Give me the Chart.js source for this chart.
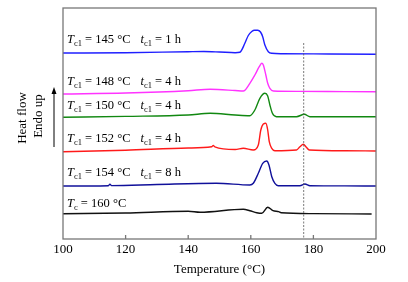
<!DOCTYPE html>
<html>
<head>
<meta charset="utf-8">
<script src="https://cdn.jsdelivr.net/npm/chart.js@4.4.1/dist/chart.umd.min.js"></script>
<style>
  html, body { margin: 0; padding: 0; background: #fff; }
  #wrap { width: 408px; height: 282px; }
</style>
</head>
<body>
<div id="wrap"><canvas id="dsc"></canvas></div>
<script>
// temperatures (°C) and heat-flow readings (arbitrary offset units) per curve
const tc145T = [100, 120, 140, 145, 150, 155, 156.5, 158.1, 159.2, 160.3, 161.2, 162.2, 163.1, 163.8, 164.5, 165.6, 166.7, 170, 185, 200];
const tc145V = [186, 186.3, 187.3, 187.5, 187, 186.3, 186.7, 195.7, 203.5, 207.5, 208.8, 208.8, 207, 202.3, 194, 187.3, 185.7, 185.3, 185, 184.7];

const tc148T = [100, 120, 140, 147, 155, 157.6, 159.7, 161.3, 162.7, 163.5, 164, 164.8, 165.4, 166.1, 167.2, 175, 190, 200];
const tc148V = [145, 146, 148.3, 149.7, 148.5, 148, 155.7, 164, 172.3, 175.7, 174, 164, 155.7, 150.7, 148, 147.6, 147.4, 147.3];

const tc150T = [100, 120, 140, 147, 155, 159.7, 161.3, 162.9, 164.5, 165.4, 166.1, 166.9, 168.2, 174.6, 177.1, 178.9, 190, 200];
const tc150V = [121.7, 122.6, 124, 125.7, 124, 123.3, 129, 140.7, 145.7, 143, 134, 125.7, 122.3, 122.3, 124.7, 122.3, 122.3, 122.3];

const tc152T = [100, 120, 140, 147.5, 148, 148.5, 155, 157.6, 160.8, 162.4, 163.2, 164, 164.8, 165.4, 165.9, 166.7, 167.7, 174.6, 175.7, 176.8, 177.6, 178.7, 190, 200];
const tc152V = [87.3, 88.8, 91, 92.2, 93.5, 92.2, 89.5, 90.7, 89, 94, 109, 115, 115.7, 109, 97.3, 90.7, 88.3, 89, 92.3, 94.7, 92.3, 89, 88.2, 88];

const tc154T = [100, 114.5, 115, 115.5, 130, 149, 159.7, 160.8, 162.4, 163.8, 165.1, 165.8, 166.7, 167.7, 168.8, 175.7, 177.3, 178.9, 190, 200];
const tc154V = [53, 53.3, 54.8, 53.4, 54.5, 55.7, 54, 55.7, 65.7, 75.7, 78, 74, 62.3, 55.7, 53.3, 53.3, 55, 53.3, 53.1, 53];

const tc160T = [100, 120, 140, 143.8, 157.6, 159.7, 161.9, 163.5, 165.4, 167.1, 168.9, 169.7, 180, 198.6];
const tc160V = [25.3, 26, 27.7, 26.7, 29.7, 28.3, 26.3, 25.7, 31.7, 28.3, 27.3, 26.3, 25.4, 25];

const xTicks = [100, 120, 140, 160, 180, 200];
const markerT = 176.9;

const SERIF = "'Liberation Serif', 'Times New Roman', serif";

function pts(t, v) { return t.map((x, i) => ({ x: x, y: v[i] })); }

function curve(t, v, color) {
  return {
    data: pts(t, v),
    borderColor: color,
    borderWidth: 1.4,
    pointRadius: 0,
    fill: false,
    cubicInterpolationMode: "monotone",
  };
}

const curveLabels = [
  { sub: "c1", temp: "145", time: "1", y: 42.5 },
  { sub: "c1", temp: "148", time: "4", y: 84.5 },
  { sub: "c1", temp: "150", time: "4", y: 108.5 },
  { sub: "c1", temp: "152", time: "4", y: 141.5 },
  { sub: "c1", temp: "154", time: "8", y: 175.5 },
  { sub: "c", temp: "160", time: null, y: 206.5 },
];

function drawLabel(ctx, x, y, lab) {
  const big = "12.5px " + SERIF;
  const bigIt = "italic 12.5px " + SERIF;
  const small = "8.5px " + SERIF;
  ctx.textBaseline = "alphabetic";
  ctx.textAlign = "left";
  ctx.fillStyle = "#000";
  const put = (txt, font, dy) => {
    ctx.font = font;
    ctx.fillText(txt, x, y + (dy || 0));
    x += ctx.measureText(txt).width;
  };
  put("T", bigIt);
  put(lab.sub, small, 3);
  put(" = " + lab.temp + " \u00B0C", big);
  if (lab.time) {
    x += 10;
    put("t", bigIt);
    put("c1", small, 3);
    put(" = " + lab.time + " h", big);
  }
}

const decor = {
  id: "decor",
  afterDatasetsDraw(chart) {
    const { ctx, chartArea: a, scales } = chart;
    ctx.save();
    // dashed marker line
    const mx = scales.x.getPixelForValue(markerT);
    ctx.strokeStyle = "#555";
    ctx.lineWidth = 0.8;
    ctx.setLineDash([2, 1.5]);
    ctx.beginPath();
    ctx.moveTo(mx, 43);
    ctx.lineTo(mx, a.bottom);
    ctx.stroke();
    ctx.setLineDash([]);

    // frame and inward ticks
    ctx.strokeStyle = "#777";
    ctx.lineWidth = 1.3;
    ctx.strokeRect(a.left, a.top, a.right - a.left, a.bottom - a.top);
    ctx.beginPath();
    xTicks.slice(1, -1).forEach((t) => {
      const px = scales.x.getPixelForValue(t);
      ctx.moveTo(px, a.bottom);
      ctx.lineTo(px, a.bottom - 4);
    });
    ctx.stroke();

    curveLabels.forEach((lab) => drawLabel(ctx, a.left + 4, lab.y, lab));

    // y-axis caption with arrow
    ctx.fillStyle = "#000";
    ctx.font = "13px " + SERIF;
    ctx.textAlign = "center";
    ctx.textBaseline = "middle";
    ctx.save();
    ctx.translate(23, 118);
    ctx.rotate(-Math.PI / 2);
    ctx.fillText("Heat flow", 0, 0);
    ctx.restore();
    ctx.save();
    ctx.translate(39, 116);
    ctx.rotate(-Math.PI / 2);
    ctx.fillText("Endo up", 0, 0);
    ctx.restore();

    ctx.strokeStyle = "#000";
    ctx.lineWidth = 1;
    ctx.beginPath();
    ctx.moveTo(54, 147);
    ctx.lineTo(54, 92);
    ctx.stroke();
    ctx.beginPath();
    ctx.moveTo(54, 87);
    ctx.lineTo(51.5, 94);
    ctx.lineTo(56.5, 94);
    ctx.closePath();
    ctx.fill();
    ctx.restore();
  },
};

new Chart(document.getElementById("dsc"), {
  type: "line",
  data: {
    datasets: [
      curve(tc145T, tc145V, "#1f1fff"),
      curve(tc148T, tc148V, "#ff33ff"),
      curve(tc150T, tc150V, "#118811"),
      curve(tc152T, tc152V, "#ff1a1a"),
      curve(tc154T, tc154V, "#10109a"),
      curve(tc160T, tc160V, "#111111"),
    ],
  },
  options: {
    responsive: true,
    maintainAspectRatio: false,
    animation: false,
    layout: { padding: { left: 63, right: 32, top: 8, bottom: 0 } },
    plugins: { legend: { display: false }, tooltip: { enabled: false } },
    scales: {
      x: {
        type: "linear",
        min: 100,
        max: 200,
        afterBuildTicks: (s) => { s.ticks = xTicks.map((v) => ({ value: v })); },
        afterFit: (s) => { s.height = 43; },
        grid: { display: false, drawTicks: false },
        border: { display: false },
        ticks: { color: "#000", padding: 3, maxRotation: 0, font: { family: SERIF, size: 13 } },
        title: {
          display: true,
          text: "Temperature (\u00B0C)",
          color: "#000",
          padding: { top: 0, bottom: 5 },
          font: { family: SERIF, size: 13 },
        },
      },
      y: { display: false, min: 0, max: 231 },
    },
  },
  plugins: [decor],
});
</script>
</body>
</html>
